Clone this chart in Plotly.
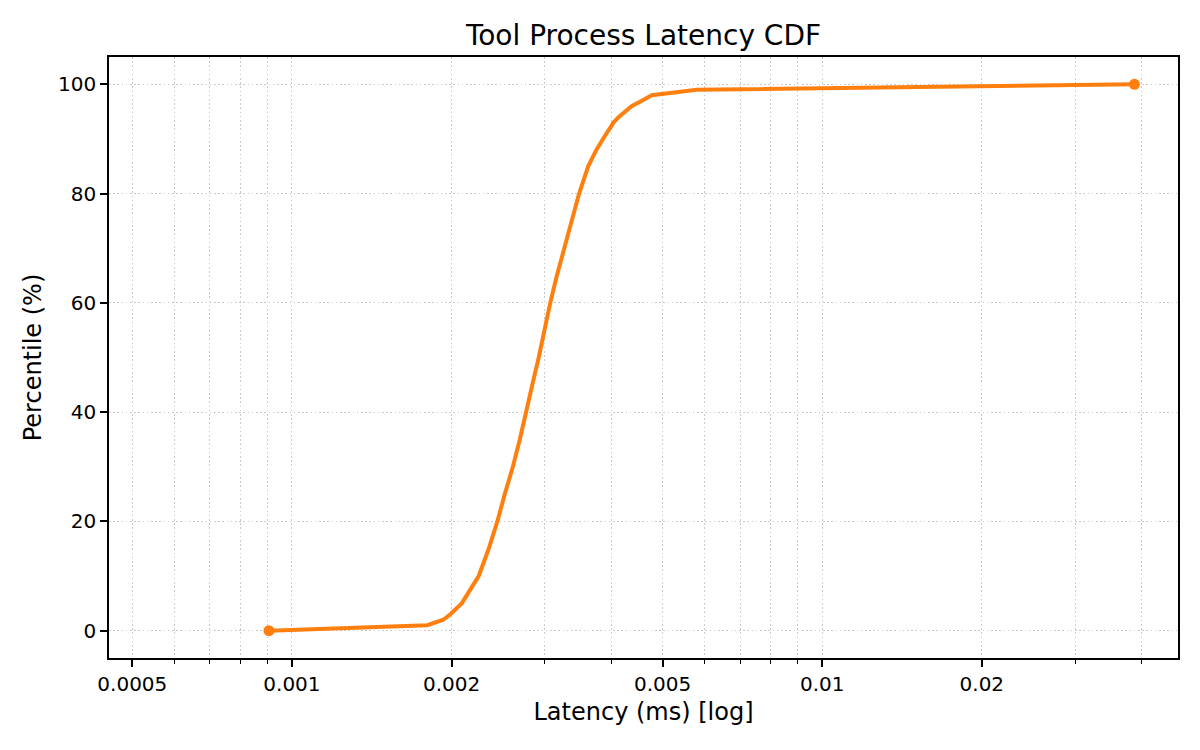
import plotly.graph_objects as go

# CDF samples (latency in ms, percentile in %)
percentile = [0, 1, 2, 3, 5, 10, 15, 20, 25, 30, 35, 40, 45, 50, 55, 60,
              65, 70, 75, 80, 85, 88, 90, 92, 93, 94, 95, 96, 97, 98, 99, 100]
latency_ms = [0.000905, 0.00180, 0.00193, 0.00199, 0.00209, 0.00225, 0.00235,
              0.00244, 0.00252, 0.00261, 0.00269, 0.00277, 0.00284, 0.00292,
              0.00299, 0.00307, 0.00316, 0.00326, 0.00337, 0.00348, 0.00362,
              0.00375, 0.00386, 0.00397, 0.00404, 0.00413, 0.00424, 0.00437,
              0.00457, 0.00477, 0.0058, 0.0388]

x_major = [0.0005, 0.001, 0.002, 0.005, 0.01, 0.02]
x_major_text = ["0.0005", "0.001", "0.002", "0.005", "0.01", "0.02"]
x_minor = [0.0006, 0.0007, 0.0008, 0.0009, 0.003, 0.004, 0.006, 0.007,
           0.008, 0.009, 0.03, 0.04]
y_ticks = [0, 20, 40, 60, 80, 100]

ORANGE = "#ff7f0e"
GRID = "#c8c8c8"
DOTS = "1.6px,2.6px"
FONT = "DejaVu Sans"

# the page puts the figure 8px in from the top-left corner
W, H = 1192, 742

fig = go.Figure()

fig.add_trace(go.Scatter(
    x=latency_ms, y=percentile, mode="lines",
    line=dict(color=ORANGE, width=4),
    showlegend=False, hoverinfo="x+y",
))

# end markers (min and max)
fig.add_trace(go.Scatter(
    x=[latency_ms[0], latency_ms[-1]], y=[percentile[0], percentile[-1]],
    mode="markers", marker=dict(color=ORANGE, size=11),
    showlegend=False, hoverinfo="x+y",
))

axis_common = dict(
    ticks="outside", ticklen=7, tickwidth=1.6, tickcolor="black",
    showgrid=True, gridcolor=GRID, griddash=DOTS, gridwidth=1.4,
    showline=True, linecolor="black", linewidth=1.6, mirror=True,
    zeroline=False, tickfont=dict(size=20),
)

fig.update_layout(
    width=W, height=H,
    paper_bgcolor="white", plot_bgcolor="white",
    margin=dict(l=101, r=22, t=49, b=92),
    font=dict(family=FONT, color="black", size=20),
    title=dict(text="Tool Process Latency CDF", x=(643.5 - 8) / W,
               xanchor="center", y=1 - 27 / H, yanchor="middle",
               font=dict(size=28, family=FONT, color="black")),
    xaxis=dict(
        type="log", range=[-3.345, -1.329],
        tickmode="array", tickvals=x_major, ticktext=x_major_text,
        minor=dict(tickmode="array", tickvals=x_minor, ticks="outside",
                   ticklen=4, tickwidth=1.2, tickcolor="black",
                   showgrid=True, gridcolor=GRID, griddash=DOTS, gridwidth=1.4),
        title=dict(text="Latency (ms) [log]", font=dict(size=24), standoff=8),
        **axis_common,
    ),
    yaxis=dict(
        range=[-5, 105], tickmode="array", tickvals=y_ticks,
        title=dict(text="Percentile (%)", font=dict(size=24), standoff=10),
        **axis_common,
    ),
)

fig.write_html("out.html")
